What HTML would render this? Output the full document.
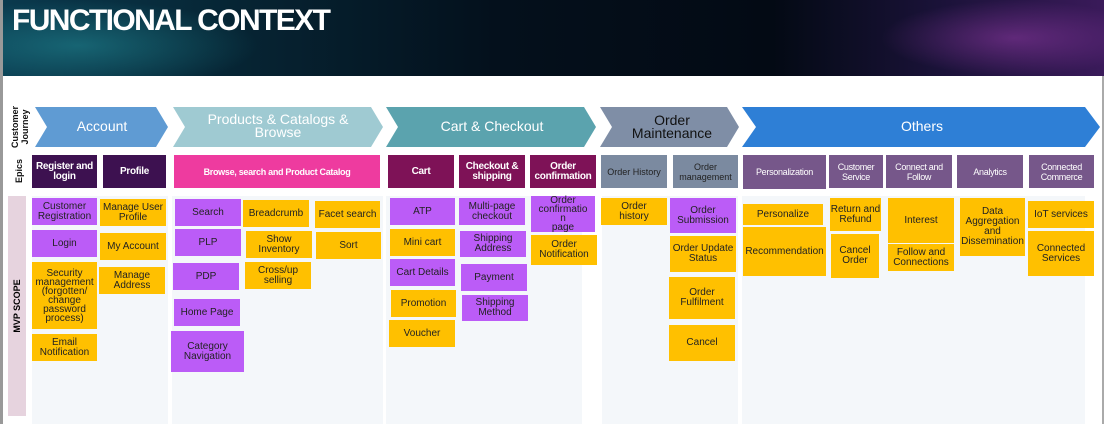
<!DOCTYPE html>
<html><head><meta charset="utf-8"><style>
body{margin:0;width:1104px;height:424px;overflow:hidden;background:#fff;font-family:"Liberation Sans",Arial,sans-serif;position:relative}
.a{position:absolute;box-sizing:border-box;display:flex;align-items:center;justify-content:center;text-align:center;font-size:10px;line-height:10px;color:#222}
.p{background:#bb5cf7}
.o{background:#ffc000}
.e{color:#fff;font-size:10px;font-weight:bold;letter-spacing:-0.3px}
.bg{position:absolute;background:#f4f7fa;top:196px;height:228px}
</style></head><body>
<div style="position:absolute;left:0;top:0;width:1104px;height:76px;background:linear-gradient(90deg,#0a3a4e 0%,#062433 22%,#04101c 45%,#030a14 70%,#1a1238 85%,#3a1a5a 100%)"></div>
<div style="position:absolute;left:0;top:0;width:260px;height:76px;background:radial-gradient(ellipse at 30% 60%,rgba(40,160,170,.45),rgba(0,0,0,0) 70%)"></div>
<div style="position:absolute;left:880px;top:0;width:224px;height:76px;background:radial-gradient(ellipse at 60% 50%,rgba(150,60,170,.5),rgba(0,0,0,0) 70%)"></div>
<div style="position:absolute;left:12px;top:4px;color:#fff;font-size:30px;font-weight:bold;letter-spacing:-1.6px;white-space:nowrap">FUNCTIONAL CONTEXT</div>
<div style="position:absolute;left:0;top:0;width:3px;height:424px;background:#999"></div>
<div style="position:absolute;right:0;top:76px;width:2px;height:348px;background:#aaa"></div>

<svg style="position:absolute;left:0;top:0" width="1104" height="424">
<polygon points="35,107 156,107 168,127 156,147 35,147 47,127" fill="#5f9bd3"/>
<polygon points="173,107 371,107 383,127 371,147 173,147 185,127" fill="#9fcad2"/>
<polygon points="386,107 584,107 596,127 584,147 386,147 398,127" fill="#5ba3ae"/>
<polygon points="600,107 727,107 739,127 727,147 600,147 612,127" fill="#7f8ea6"/>
<polygon points="742,107 1085,107 1100,127 1085,147 742,147 756,127" fill="#2e7fd6"/>
<text x="102" y="131" fill="#fff" font-size="14" text-anchor="middle" font-family="Liberation Sans">Account</text>
<text x="278" y="124" fill="#fff" font-size="14" text-anchor="middle" font-family="Liberation Sans">Products &amp; Catalogs &amp;</text>
<text x="278" y="137" fill="#fff" font-size="14" text-anchor="middle" font-family="Liberation Sans">Browse</text>
<text x="492" y="131" fill="#fff" font-size="14" text-anchor="middle" font-family="Liberation Sans">Cart &amp; Checkout</text>
<text x="672" y="125" fill="#111" font-size="14" text-anchor="middle" font-family="Liberation Sans">Order</text>
<text x="672" y="138" fill="#111" font-size="14" text-anchor="middle" font-family="Liberation Sans">Maintenance</text>
<text x="922" y="131" fill="#fff" font-size="14" text-anchor="middle" font-family="Liberation Sans">Others</text>
<text transform="translate(20,127) rotate(-90)" font-size="9" text-anchor="middle" font-family="Liberation Sans" fill="#111" font-weight="bold"><tspan x="0" y="-2">Customer</tspan><tspan x="0" y="8">Journey</tspan></text>
<text transform="translate(22,171) rotate(-90)" font-size="9" text-anchor="middle" font-family="Liberation Sans" fill="#111" font-weight="bold">Epics</text>
</svg>
<div style="position:absolute;left:8px;top:196px;width:18px;height:220px;background:#e6d3de"></div>
<div style="position:absolute;left:11px;top:306px;transform:translate(-50%,-50%) rotate(-90deg);transform-origin:center;font-size:9px;font-weight:bold;white-space:nowrap;margin-left:6px">MVP SCOPE</div>

<div class="bg" style="left:32px;width:136px"></div>
<div class="bg" style="left:172px;width:211px"></div>
<div class="bg" style="left:386px;width:196px"></div>
<div class="bg" style="left:602px;width:136px"></div>
<div class="bg" style="left:742px;width:343px"></div>

<div class="a e" style="left:32px;top:155px;width:65px;height:33px;background:#3d1150">Register and<br>login</div>
<div class="a e" style="left:103px;top:155px;width:63px;height:33px;background:#3d1150">Profile</div>
<div class="a e" style="left:174px;top:155px;width:206px;height:33px;background:#ee3b9f;font-size:9px">Browse, search and Product Catalog</div>
<div class="a e" style="left:388px;top:155px;width:66px;height:33px;background:#7e1257">Cart</div>
<div class="a e" style="left:459px;top:155px;width:66px;height:33px;background:#7e1257">Checkout &amp;<br>shipping</div>
<div class="a e" style="left:530px;top:155px;width:66px;height:33px;background:#7e1257">Order<br>confirmation</div>
<div class="a" style="left:601px;top:155px;width:66px;height:33px;background:#7b8aa0;font-size:9px">Order History</div>
<div class="a" style="left:673px;top:155px;width:65px;height:33px;background:#7b8aa0;font-size:9px">Order<br>management</div>
<div class="a e" style="left:743px;top:155px;width:83px;height:34px;background:#76578a;font-weight:normal;font-size:9px">Personalization</div>
<div class="a e" style="left:829px;top:155px;width:54px;height:33px;background:#76578a;font-weight:normal;font-size:9px">Customer<br>Service</div>
<div class="a e" style="left:886px;top:155px;width:66px;height:33px;background:#76578a;font-weight:normal;font-size:9px">Connect and<br>Follow</div>
<div class="a e" style="left:957px;top:155px;width:66px;height:33px;background:#76578a;font-weight:normal;font-size:9px">Analytics</div>
<div class="a e" style="left:1029px;top:155px;width:65px;height:33px;background:#76578a;font-weight:normal;font-size:9px">Connected<br>Commerce</div>

<div class="a p" style="left:32px;top:198px;width:65px;height:27px">Customer<br>Registration</div>
<div class="a p" style="left:32px;top:230px;width:65px;height:27px">Login</div>
<div class="a o" style="left:32px;top:262px;width:65px;height:67px;line-height:9px">Security<br>management<br>(forgotten/<br>change<br>password<br>process)</div>
<div class="a o" style="left:32px;top:334px;width:65px;height:27px">Email<br>Notification</div>
<div class="a o" style="left:100px;top:199px;width:66px;height:27px">Manage User<br>Profile</div>
<div class="a o" style="left:100px;top:233px;width:66px;height:27px">My Account</div>
<div class="a o" style="left:99px;top:267px;width:66px;height:27px">Manage<br>Address</div>

<div class="a p" style="left:175px;top:199px;width:66px;height:27px">Search</div>
<div class="a o" style="left:243px;top:200px;width:66px;height:27px">Breadcrumb</div>
<div class="a o" style="left:315px;top:201px;width:65px;height:27px">Facet search</div>
<div class="a p" style="left:175px;top:229px;width:66px;height:27px">PLP</div>
<div class="a o" style="left:246px;top:231px;width:66px;height:27px">Show Inventory</div>
<div class="a o" style="left:316px;top:232px;width:65px;height:27px">Sort</div>
<div class="a p" style="left:173px;top:263px;width:66px;height:27px">PDP</div>
<div class="a o" style="left:245px;top:262px;width:66px;height:27px">Cross/up<br>selling</div>
<div class="a p" style="left:174px;top:299px;width:66px;height:27px">Home Page</div>
<div class="a p" style="left:171px;top:331px;width:73px;height:41px">Category<br>Navigation</div>

<div class="a p" style="left:390px;top:198px;width:65px;height:27px">ATP</div>
<div class="a o" style="left:390px;top:229px;width:65px;height:27px">Mini cart</div>
<div class="a p" style="left:390px;top:259px;width:65px;height:27px">Cart Details</div>
<div class="a o" style="left:391px;top:290px;width:65px;height:27px">Promotion</div>
<div class="a o" style="left:389px;top:320px;width:66px;height:27px">Voucher</div>
<div class="a p" style="left:459px;top:198px;width:66px;height:27px">Multi-page<br>checkout</div>
<div class="a p" style="left:460px;top:231px;width:66px;height:26px">Shipping<br>Address</div>
<div class="a p" style="left:461px;top:264px;width:66px;height:27px">Payment</div>
<div class="a p" style="left:462px;top:295px;width:66px;height:26px">Shipping<br>Method</div>
<div class="a p" style="left:531px;top:196px;width:64px;height:36px;line-height:9px">Order<br>confirmatio<br>n<br>page</div>
<div class="a o" style="left:531px;top:235px;width:66px;height:30px">Order<br>Notification</div>

<div class="a o" style="left:601px;top:198px;width:66px;height:27px">Order<br>history</div>
<div class="a p" style="left:670px;top:198px;width:66px;height:35px">Order<br>Submission</div>
<div class="a o" style="left:670px;top:236px;width:66px;height:36px">Order Update<br>Status</div>
<div class="a o" style="left:669px;top:277px;width:66px;height:42px">Order<br>Fulfilment</div>
<div class="a o" style="left:669px;top:325px;width:66px;height:36px">Cancel</div>

<div class="a o" style="left:743px;top:204px;width:80px;height:21px">Personalize</div>
<div class="a o" style="left:743px;top:227px;width:83px;height:49px">Recommendation</div>
<div class="a o" style="left:830px;top:198px;width:51px;height:33px">Return and<br>Refund</div>
<div class="a o" style="left:831px;top:234px;width:48px;height:44px">Cancel<br>Order</div>
<div class="a o" style="left:888px;top:198px;width:66px;height:45px">Interest</div>
<div class="a o" style="left:888px;top:244px;width:66px;height:27px">Follow and<br>Connections</div>
<div class="a o" style="left:960px;top:198px;width:65px;height:58px">Data<br>Aggregation<br>and<br>Dissemination</div>
<div class="a o" style="left:1028px;top:201px;width:66px;height:27px">IoT services</div>
<div class="a o" style="left:1028px;top:231px;width:66px;height:45px">Connected<br>Services</div>
</body></html>
